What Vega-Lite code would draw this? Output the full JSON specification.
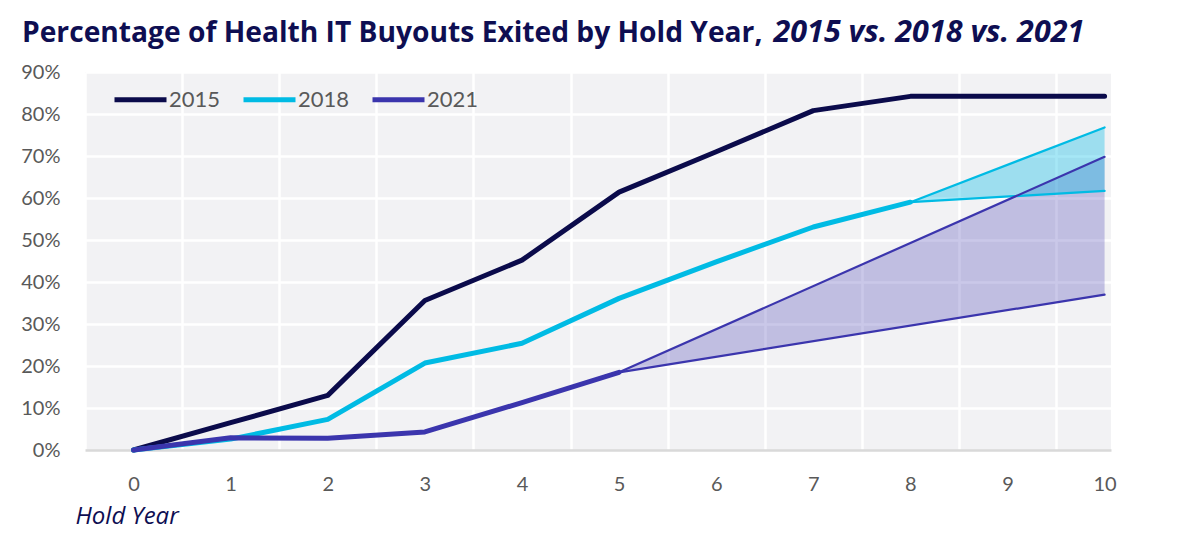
{
  "$schema": "https://vega.github.io/schema/vega-lite/v6.json",
  "width": 1026,
  "height": 378,
  "autosize": {"type": "none"},
  "padding": {"left": 85, "top": 72, "right": 89, "bottom": 101},
  "background": "white",
  "config": {
    "font": "Lato",
    "view": {"fill": "#f2f2f4", "stroke": null}
  },
  "title": {
    "text": "Percentage of Health IT Buyouts Exited by Hold Year,",
    "anchor": "start",
    "frame": "group",
    "dx": -63,
    "dy": 31,
    "offset": 0,
    "font": "Open Sans",
    "fontSize": 28.2,
    "fontWeight": "bold",
    "color": "#0e0e52"
  },
  "datasets": {
    "actual": [
      {"vintage": "2015", "hold": 0, "pct": 0},
      {"vintage": "2015", "hold": 1, "pct": 0.065},
      {"vintage": "2015", "hold": 2, "pct": 0.13},
      {"vintage": "2015", "hold": 3, "pct": 0.356},
      {"vintage": "2015", "hold": 4, "pct": 0.452},
      {"vintage": "2015", "hold": 5, "pct": 0.614},
      {"vintage": "2015", "hold": 6, "pct": 0.71},
      {"vintage": "2015", "hold": 7, "pct": 0.808},
      {"vintage": "2015", "hold": 8, "pct": 0.842},
      {"vintage": "2015", "hold": 9, "pct": 0.842},
      {"vintage": "2015", "hold": 10, "pct": 0.842},
      {"vintage": "2018", "hold": 0, "pct": 0},
      {"vintage": "2018", "hold": 1, "pct": 0.026},
      {"vintage": "2018", "hold": 2, "pct": 0.073},
      {"vintage": "2018", "hold": 3, "pct": 0.207},
      {"vintage": "2018", "hold": 4, "pct": 0.254},
      {"vintage": "2018", "hold": 5, "pct": 0.361},
      {"vintage": "2018", "hold": 6, "pct": 0.448},
      {"vintage": "2018", "hold": 7, "pct": 0.531},
      {"vintage": "2018", "hold": 8, "pct": 0.59},
      {"vintage": "2021", "hold": 0, "pct": 0},
      {"vintage": "2021", "hold": 1, "pct": 0.029},
      {"vintage": "2021", "hold": 2, "pct": 0.028},
      {"vintage": "2021", "hold": 3, "pct": 0.043},
      {"vintage": "2021", "hold": 4, "pct": 0.113},
      {"vintage": "2021", "hold": 5, "pct": 0.185}
    ],
    "forecast": [
      {"vintage": "2021", "hold": 5, "pct": 0.185, "high": 0.185},
      {"vintage": "2021", "hold": 10, "pct": 0.37, "high": 0.698},
      {"vintage": "2018", "hold": 8, "pct": 0.59, "high": 0.59},
      {"vintage": "2018", "hold": 10, "pct": 0.617, "high": 0.768}
    ]
  },
  "encoding": {
    "x": {
      "field": "hold",
      "type": "quantitative",
      "scale": {"domain": [-0.5, 10.066], "nice": false, "zero": false},
      "axis": {
        "values": [-0.5, 0.5, 1.5, 2.5, 3.5, 4.5, 5.5, 6.5, 7.5, 8.5, 9.5],
        "labelExpr": "format(datum.value + 0.5, 'd')",
        "labelOffset": 48.55,
        "labelFlush": false,
        "labelOverlap": false,
        "labelBound": false,
        "ticks": false,
        "domain": false,
        "grid": true,
        "gridColor": "white",
        "gridWidth": 2.5,
        "labelFontSize": 20,
        "labelColor": "#595959",
        "labelPadding": 24,
        "title": "Hold Year",
        "titleFont": "Open Sans",
        "titleFontStyle": "italic",
        "titleFontWeight": "normal",
        "titleFontSize": 24,
        "titleColor": "#0e0e52",
        "titleAnchor": "start",
        "titleAlign": "left",
        "titleBaseline": "alphabetic",
        "titleX": -10,
        "titleY": 73
      }
    },
    "y": {
      "field": "pct",
      "type": "quantitative",
      "scale": {"domain": [0, 0.9], "nice": false},
      "axis": {
        "values": [0, 0.1, 0.2, 0.3, 0.4, 0.5, 0.6, 0.7, 0.8, 0.9],
        "format": ".0%",
        "ticks": false,
        "domain": false,
        "grid": true,
        "gridColor": {"condition": {"test": "datum.value === 0", "value": "#d9d9d9"}, "value": "white"},
        "gridWidth": 2.5,
        "labelFontSize": 20,
        "labelColor": "#595959",
        "labelPadding": 25,
        "title": "2015 vs. 2018 vs. 2021",
        "titleAngle": 0,
        "titleAlign": "left",
        "titleBaseline": "alphabetic",
        "titleFont": "Open Sans",
        "titleFontSize": 30.5,
        "titleFontStyle": "italic",
        "titleFontWeight": "bold",
        "titleColor": "#0e0e52",
        "titleX": 688,
        "titleY": -31
      }
    }
  },
  "layer": [
    {
      "data": {"name": "forecast"},
      "transform": [{"filter": "datum.vintage == '2021'"}],
      "mark": {"type": "area", "fill": "#3b35ad", "fillOpacity": 0.27},
      "encoding": {"y2": {"field": "high"}}
    },
    {
      "data": {"name": "forecast"},
      "transform": [{"filter": "datum.vintage == '2018'"}],
      "mark": {"type": "area", "fill": "#00bbe4", "fillOpacity": 0.35},
      "encoding": {"y2": {"field": "high"}}
    },
    {
      "data": {"name": "forecast"},
      "mark": {"type": "line", "strokeWidth": 2.2, "strokeCap": "round"},
      "encoding": {
        "color": {"field": "vintage", "type": "nominal"}
      }
    },
    {
      "data": {"name": "forecast"},
      "mark": {"type": "line", "strokeWidth": 2.2, "strokeCap": "round"},
      "encoding": {
        "y": {"field": "high", "type": "quantitative"},
        "color": {"field": "vintage", "type": "nominal"}
      }
    },
    {
      "data": {"name": "actual"},
      "mark": {"type": "line", "strokeWidth": 5, "strokeCap": "round", "strokeJoin": "round"},
      "encoding": {
        "color": {
          "field": "vintage",
          "type": "nominal",
          "scale": {"domain": ["2015", "2018", "2021"], "range": ["#0b0b4b", "#00bbe4", "#3b35ad"]},
          "legend": {
            "orient": "none",
            "legendX": 27,
            "legendY": -1,
            "direction": "horizontal",
            "title": null,
            "symbolType": "stroke",
            "symbolSize": 2704,
            "symbolStrokeWidth": 5,
            "labelFontSize": 22,
            "labelColor": "#595959",
            "labelOffset": 0,
            "columnPadding": 12,
            "padding": 0
          }
        }
      }
    }
  ]
}
